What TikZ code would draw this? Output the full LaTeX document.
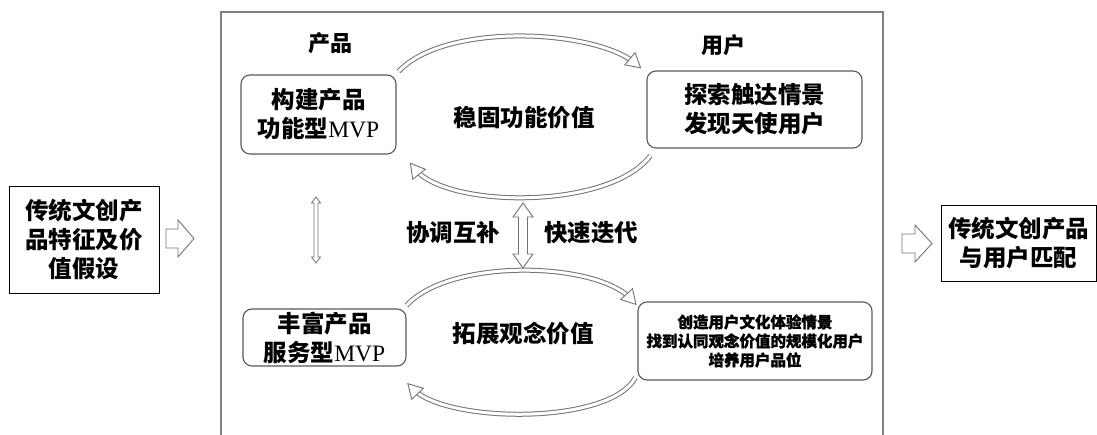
\documentclass[tikz,border=0pt]{standalone}
\usepackage{fontspec}
\setmainfont{Noto Sans CJK SC}
\newfontfamily\cjkheavy{Noto Sans CJK SC}[FakeBold=1.2]
\newfontfamily\tnr{Liberation Serif}
\usetikzlibrary{calc,decorations.markings}
\tikzset{
  plainbox/.style={draw=black, line width=0.9pt, align=center, inner sep=0pt},
  rbox/.style={draw=black!65, line width=1.1pt, rounded corners=9pt, align=center, inner sep=0pt},
  lbl/.style={align=center, inner sep=0pt},
  big/.style={font=\bfseries\fontsize{23.5}{29}\selectfont},
  head/.style={font=\bfseries\fontsize{22}{26}\selectfont},
  small/.style={font=\cjkheavy\bfseries\fontsize{15.5}{19}\selectfont},
  hollow/.style={draw=black!55, line width=5pt,
    postaction={draw=white, line width=3pt},
    postaction={decorate, decoration={markings, mark=at position 0.999 with {
      \draw[black!55, fill=white, line width=0.9pt, line join=miter] (7pt,0pt) -- (-7pt,8pt) -- (-7pt,-8pt) -- cycle;}}}},
  blockarrow/.style={draw=black!55, fill=white, line width=0.9pt, line join=miter},
}
\begin{document}
\begin{tikzpicture}[x=1pt,y=-1pt]
\useasboundingbox (0,0) rectangle (1097,435);
% frame
\draw[black!50, line width=1.6pt] (221,436) -- (221,12) -- (883,12) -- (883,436);
% outer boxes
\node[plainbox, big, minimum width=150pt, minimum height=107pt] (in) at (84,239.5) {传统文创产\\品特征及价\\值假设};
\node[plainbox, big, minimum width=155pt, minimum height=76pt] (out) at (1018.5,243) {传统文创产品\\与用户匹配};
% inner boxes
\node[rbox, big, minimum width=155pt, minimum height=79pt] (b1) at (318.5,114.5) {构建产品\\功能型{\mdseries\tnr MVP}};
\node[rbox, big, minimum width=215pt, minimum height=77pt] (b2) at (754.5,109.5) {探索触达情景\\发现天使用户};
\node[rbox, big, minimum width=163pt, minimum height=57pt] (b3) at (324.5,337.5) {丰富产品\\服务型{\mdseries\tnr MVP}};
\node[rbox, small, minimum width=234pt, minimum height=78pt] (b4) at (755,341) {创造用户文化体验情景\\找到认同观念价值的规模化用户\\培养用户品位};
% labels
\node[lbl, head] (lp) at (330,43) {产品};
\node[lbl, head] (lu) at (723,45) {用户};
\node[lbl, big] (v1) at (524,118) {稳固功能价值};
\node[lbl, big] (v2) at (523,333) {拓展观念价值};
\node[lbl, big] (t1) at (453,233) {协调互补};
\node[lbl, big] (t2) at (591,233) {快速迭代};
% cycle arrows
\draw[hollow] ($(b1.north east)+(2,-3)$) .. controls +(47,-50) and +(-40,-34) .. ($(b2.north west)+(-11,-7)$);
\draw[hollow] ($(b2.south west)+(4,7)$) .. controls +(-41,55) and +(31,40) .. ($(b1.south east)+(18,14)$);
\draw[hollow] ($(b3.north east)+(0,-3)$) .. controls +(44,-48) and +(-34,-38) .. ($(b4.north west)+(-6,-2)$);
\draw[hollow] ($(b4.south west)+(-2,-3)$) .. controls +(-26,48) and +(33,35) .. ($(b3.south east)+(6,22)$);
% block arrows
\draw[blockarrow] (166,229) -- (178,229) -- (178,220) -- (194,238.5) -- (178,257) -- (178,248) -- (166,248) -- cycle;
\draw[blockarrow] (902,234) -- (915,234) -- (915,225) -- (932,243.5) -- (915,262) -- (915,253) -- (902,253) -- cycle;
\draw[blockarrow] (523,203) -- (533,217) -- (527.5,217) -- (527.5,254) -- (533,254) -- (523,268) -- (513,254) -- (518.5,254) -- (518.5,217) -- (513,217) -- cycle;
\draw[blockarrow, line width=0.8pt] (316,197) -- (320.5,203) -- (318,203) -- (318,257) -- (320.5,257) -- (316,263) -- (311.5,257) -- (314,257) -- (314,203) -- (311.5,203) -- cycle;
\end{tikzpicture}
\end{document}
